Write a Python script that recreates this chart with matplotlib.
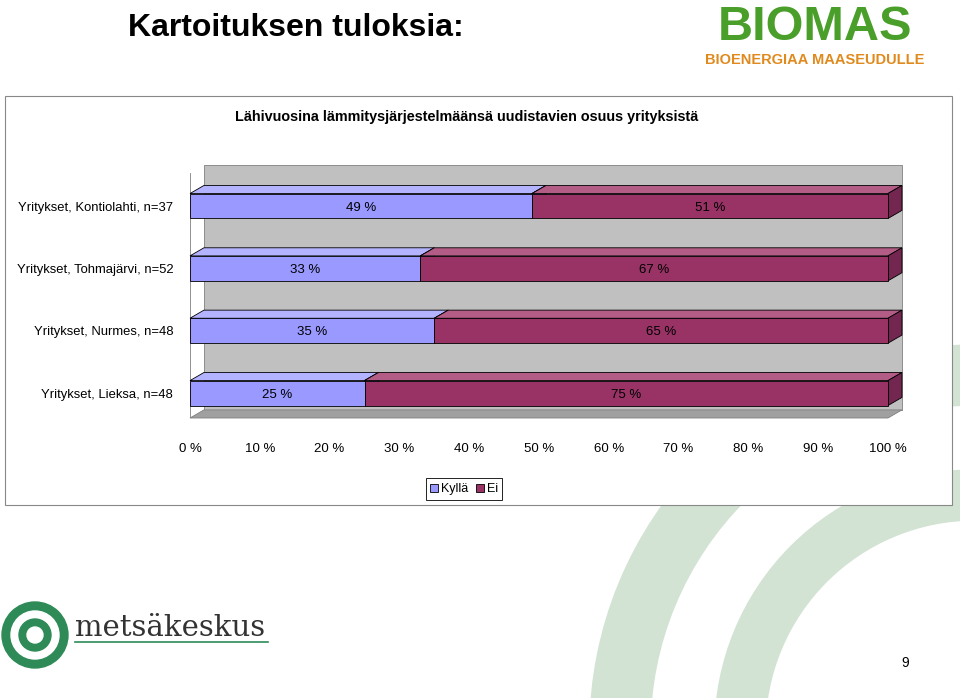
import matplotlib
matplotlib.use("Agg")
import matplotlib.pyplot as plt
from matplotlib.patches import Polygon, Rectangle, Circle, Wedge

plt.rcParams["font.family"] = "Liberation Sans"

categories = ["Yritykset, Kontiolahti, n=37", "Yritykset, Tohmajärvi, n=52",
              "Yritykset, Nurmes, n=48", "Yritykset, Lieksa, n=48"]
kylla = [49, 33, 35, 25]
ei = [51, 67, 65, 75]
series_names = ["Kyllä", "Ei"]
xticks = [0, 10, 20, 30, 40, 50, 60, 70, 80, 90, 100]

W, H = 960, 698
fig = plt.figure(figsize=(9.6, 6.98), dpi=100)
bg = fig.add_axes([0, 0, 1, 1])
bg.set_xlim(0, W)
bg.set_ylim(H, 0)
bg.axis("off")

# background decoration
bg.add_patch(Wedge((975, 730), 385, 180, 270, width=60, color="#d3e3d3", zorder=0))
bg.add_patch(Wedge((975, 730), 260, 180, 270, width=50, color="#d3e3d3", zorder=0))
for r, c in [(33, "#2e8b57"), (24, "white"), (16, "#2e8b57"), (8, "white")]:
    bg.add_patch(Circle((35, 635), r, color=c, zorder=1))
bg.text(75, 628, "metsäkeskus", fontsize=21, family="DejaVu Serif", color="#333333", va="center")
bg.plot([75, 268], [642, 642], color="#2e8b57", lw=1.2)
bg.text(905, 663, "9", fontsize=10, ha="center", va="center")

bg.text(128, 28, "Kartoituksen tuloksia:", fontsize=23, fontweight="bold", va="center")
bg.text(815, 27, "BIOMAS", fontsize=35, fontweight="bold", color="#4a9e2a", ha="center", va="center",
        transform=bg.transData)
bg.text(815, 60, "BIOENERGIAA MAASEUDULLE", fontsize=10.5, fontweight="bold", color="#e08a1e",
        ha="center", va="center")

# chart frame
bg.add_patch(Rectangle((5, 96), 947, 409, facecolor="white", edgecolor="#888888", lw=0.8, zorder=2))
bg.text(467, 117, "Lähivuosina lämmitysjärjestelmäänsä uudistavien osuus yrityksistä",
        fontsize=10.4, fontweight="bold", ha="center", va="center", zorder=3)

# plot axes: x 190..888 -> 0..100, y pixel 160..418
ax = fig.add_axes([190 / W, 1 - 418 / H, (888 - 190) / W, (418 - 160) / H])
ax.set_xlim(0, 100)
ax.set_ylim(3.40, -0.738)
ax.patch.set_visible(False)
for s in ax.spines.values():
    s.set_visible(False)

dx, dy, bh = 2.0, 0.13, 0.40
wall_top, wall_bot = -0.66, 3.27
ax.add_patch(Rectangle((dx, wall_top), 100, wall_bot - wall_top, facecolor="#c0c0c0",
                       edgecolor="#808080", lw=0.6, zorder=0, clip_on=False))
ax.add_patch(Polygon([(0, 3.40), (100, 3.40), (100 + dx, wall_bot), (dx, wall_bot)],
                     closed=True, facecolor="#a0a0a0", edgecolor="#808080", lw=0.6, zorder=0,
                     clip_on=False))
ax.plot([0, 0], [wall_top + dy, 3.40], color="#808080", lw=0.6, zorder=0)

colors = ["#9999ff", "#993366"]
tops = ["#b3b3ff", "#b35c85"]
sides = ["#7373bf", "#732650"]
for i in range(len(categories)):
    left = 0
    for vals, c, tc, sc in [(kylla, colors[0], tops[0], sides[0]), (ei, colors[1], tops[1], sides[1])]:
        v = vals[i]
        y0, y1 = i - bh / 2, i + bh / 2
        ax.add_patch(Polygon([(left, y0), (left + v, y0), (left + v + dx, y0 - dy), (left + dx, y0 - dy)],
                             closed=True, facecolor=tc, edgecolor="black", lw=0.6, zorder=2, clip_on=False))
        ax.add_patch(Polygon([(left + v, y0), (left + v + dx, y0 - dy), (left + v + dx, y1 - dy), (left + v, y1)],
                             closed=True, facecolor=sc, edgecolor="black", lw=0.6, zorder=2, clip_on=False))
        ax.add_patch(Rectangle((left, y0), v, bh, facecolor=c, edgecolor="black", lw=0.6, zorder=3,
                               clip_on=False))
        ax.text(left + v / 2, i, f"{v} %", ha="center", va="center_baseline", fontsize=9.5, zorder=4)
        left += v

ax.set_yticks(range(len(categories)))
ax.set_yticklabels(categories, fontsize=9.4)
ax.tick_params(axis="y", length=0, pad=12)
ax.set_xticks(xticks)
ax.set_xticklabels([f"{t} %" for t in xticks], fontsize=9.5)
ax.tick_params(axis="x", length=0, pad=18)

# legend
lx, ly = 430, 489
for k, (name, c) in enumerate(zip(series_names, colors)):
    x = lx + k * 46
    bg.add_patch(Rectangle((x, ly - 5), 8, 8, facecolor=c, edgecolor="black", lw=0.6, zorder=3))
    bg.text(x + 11, ly, name, fontsize=9, va="center", zorder=3)
bg.add_patch(Rectangle((426, 478), 76, 22, facecolor="white", edgecolor="black", lw=0.6, zorder=2.5))

fig.savefig("out.png", dpi=100)
